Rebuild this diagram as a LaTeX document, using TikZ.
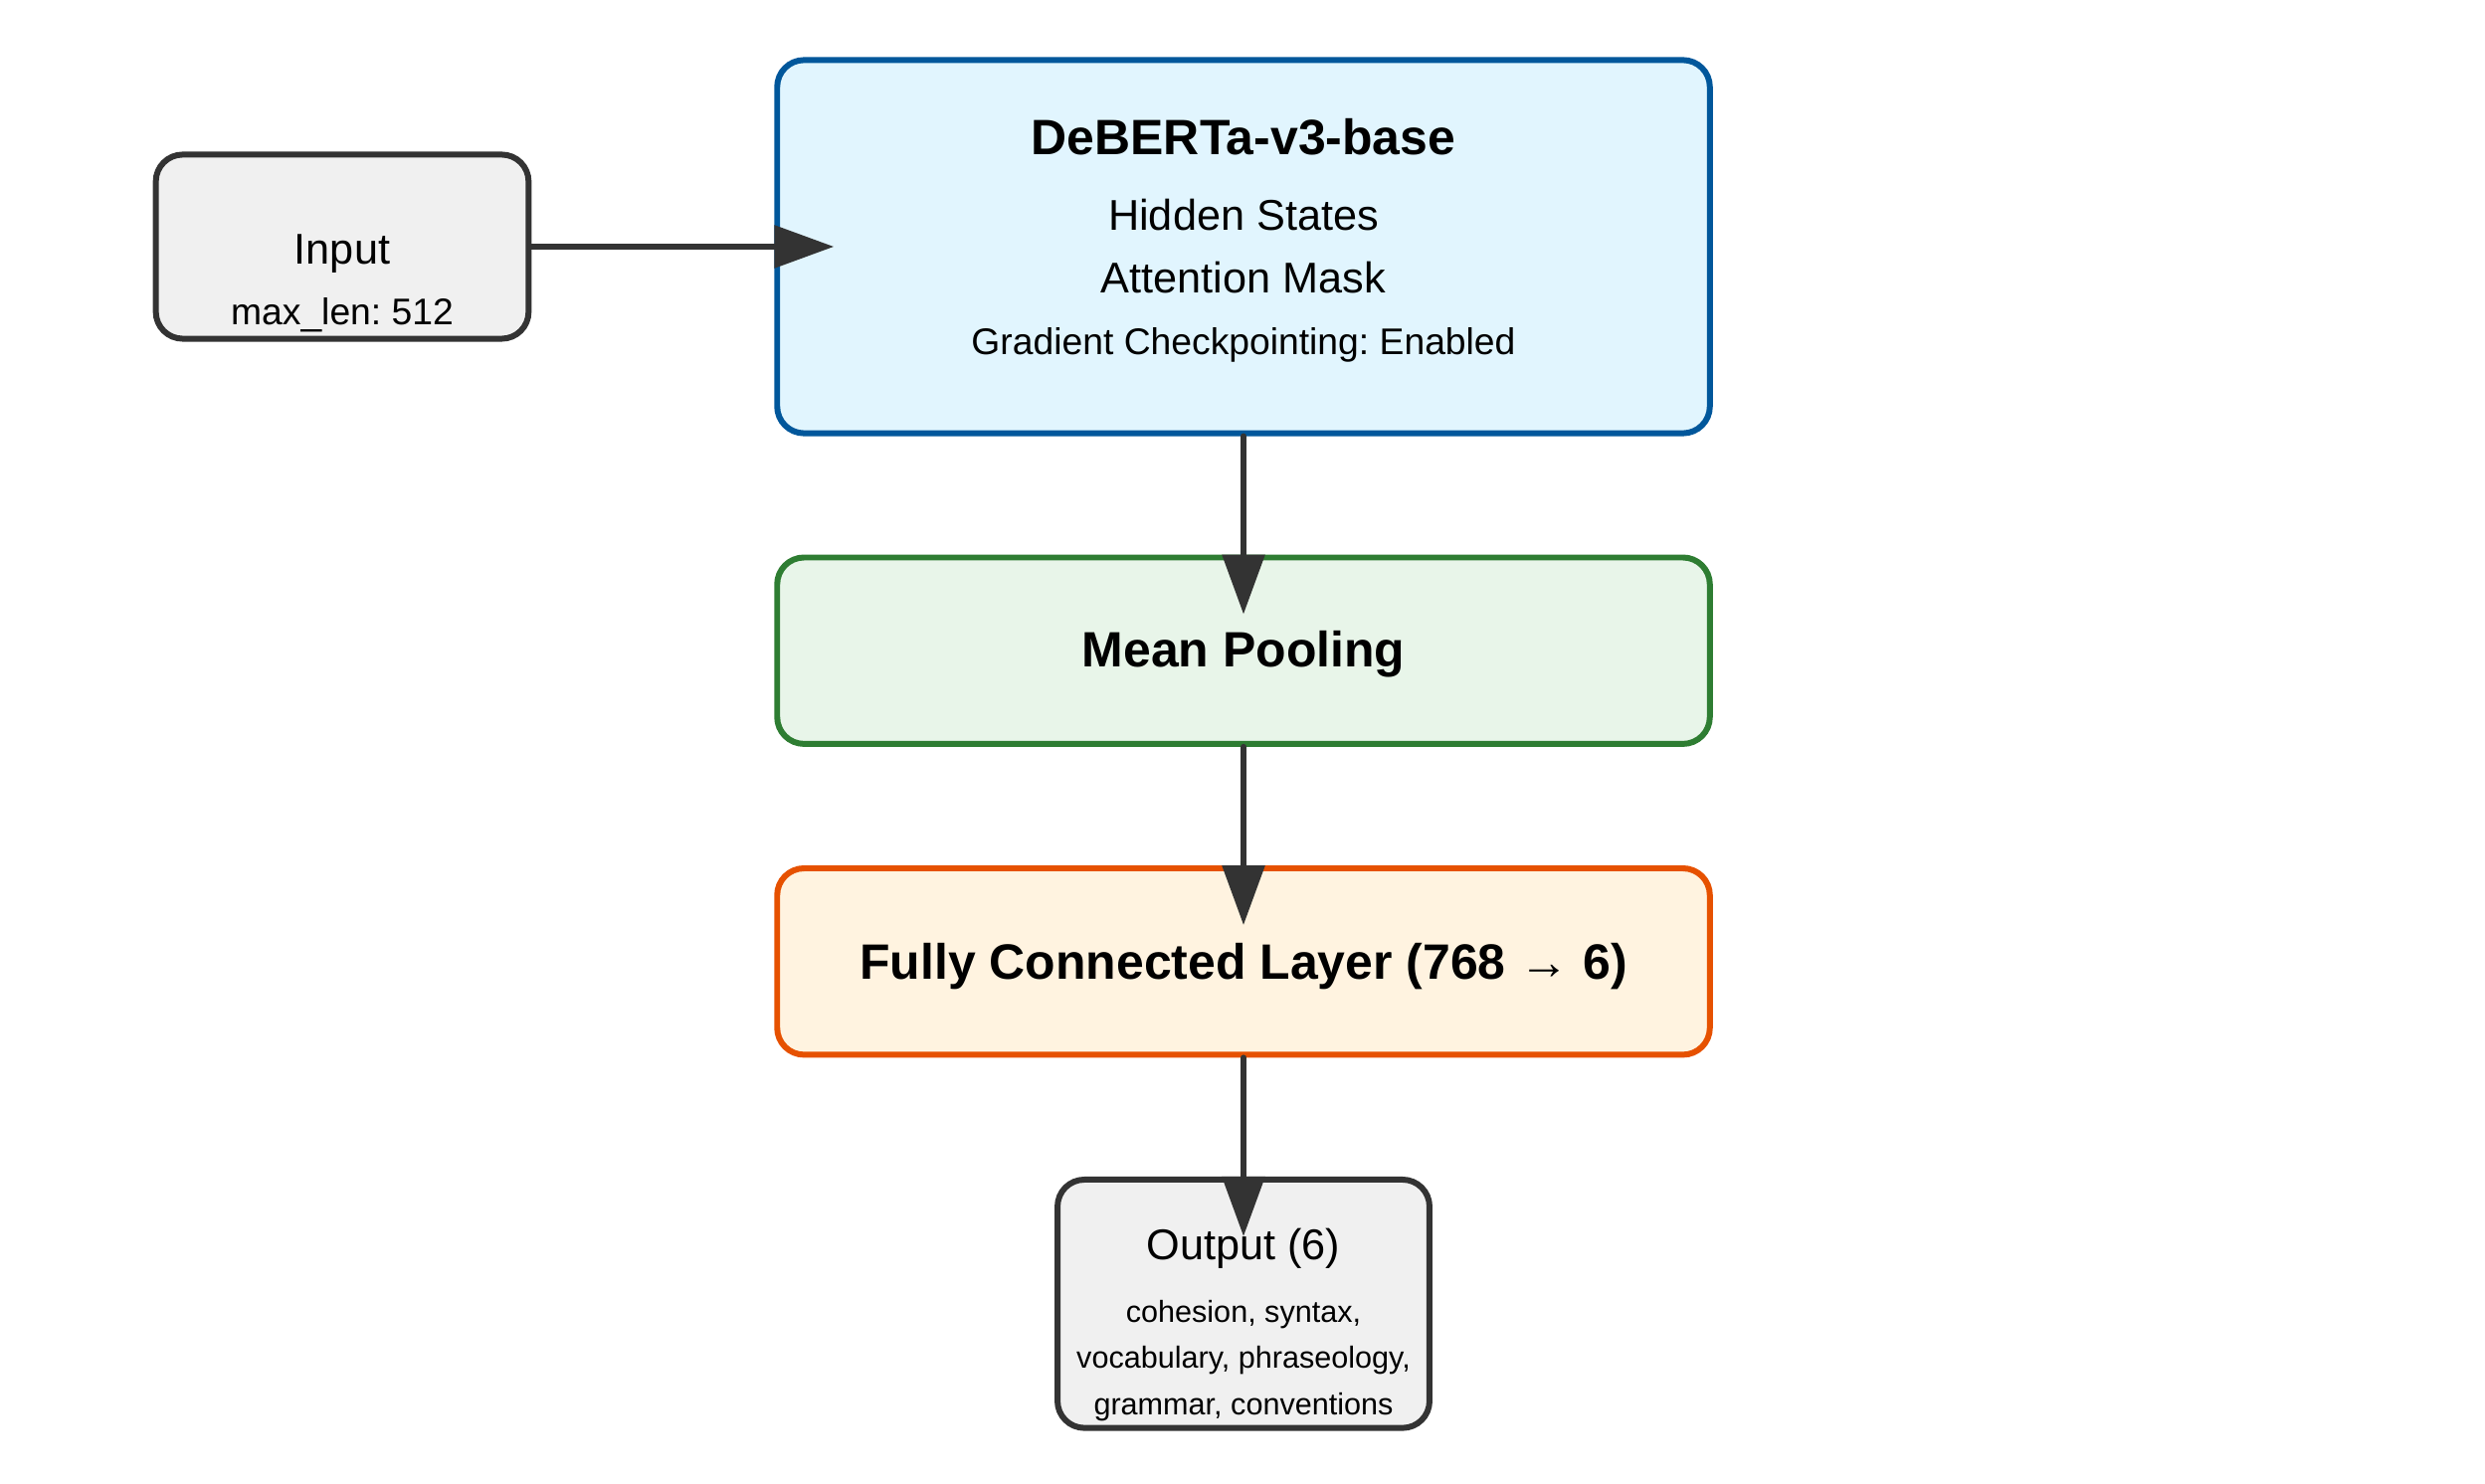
\documentclass[tikz,border=0pt]{standalone}
\usepackage{fontspec}
\setmainfont{Liberation Sans}
\usetikzlibrary{arrows.meta}
\frenchspacing
\definecolor{edge}{HTML}{333333}
\definecolor{greybg}{HTML}{F0F0F0}
\definecolor{debbg}{HTML}{E1F5FE}
\definecolor{debln}{HTML}{01579B}
\definecolor{poolbg}{HTML}{E8F5E9}
\definecolor{poolln}{HTML}{2E7D32}
\definecolor{fcbg}{HTML}{FFF3E0}
\definecolor{fcln}{HTML}{E65100}
\begin{document}
\begin{tikzpicture}[x=0.01cm,y=-0.01cm,line cap=round,
		>={Triangle[length=0.6cm,width=0.42cm]},
		box/.style={draw,rounded corners=0.27cm,line width=1.7pt,inner sep=0pt},
		big/.style={font=\fontsize{12.3}{15}\selectfont},
		mid/.style={font=\fontsize{10.6}{13}\selectfont},
		sml/.style={font=\fontsize{8.7}{11}\selectfont},
		head/.style={font=\fontsize{14.2}{17}\selectfont\bfseries},
		link/.style={->,line width=1.7pt,draw=edge,fill=edge,shorten >=-0.6cm}]
	\useasboundingbox (0,0) rectangle (2498,1492);
	%boxes
	\node[box,draw=edge,fill=greybg,minimum width=3.745cm,minimum height=1.85cm] (inp) at (344,248) {};
	\node[box,draw=debln,fill=debbg,minimum width=9.37cm,minimum height=3.75cm] (deb) at (1250,248) {};
	\node[box,draw=poolln,fill=poolbg,minimum width=9.37cm,minimum height=1.873cm] (pool) at (1250,654.2) {};
	\node[box,draw=fcln,fill=fcbg,minimum width=9.37cm,minimum height=1.873cm] (fc) at (1250,966.7) {};
	\node[box,draw=edge,fill=greybg,minimum width=3.737cm,minimum height=2.495cm] (out) at (1250,1310.8) {};
	%texts
	\node[big,anchor=base] (inpT) at (344,266) {Input};
	\node[mid,anchor=base] (inpL) at (344,327) {max\_len: 512};
	\node[head,anchor=base] (debT) at (1250,156) {DeBERTa-v3-base};
	\node[big,anchor=base] (debH) at (1250,232) {Hidden States};
	\node[big,anchor=base] (debA) at (1250,295) {Attention Mask};
	\node[mid,anchor=base] (debG) at (1250,357) {Gradient Checkpointing: Enabled};
	\node[head,anchor=base] (poolT) at (1250,671) {Mean Pooling};
	\node[head,anchor=base] (fcT) at (1250,984) {Fully Connected Layer (768 → 6)};
	\node[big,anchor=base] (outT) at (1250,1266) {Output (6)};
	\foreach \T [count=\Y] in {{cohesion, syntax,},{vocabulary, phraseology,},{grammar, conventions}}
	{\node[sml,anchor=base] (out\Y) at (1250,1329+46.5*\Y-46.5) {\T};}
	%arrows
	\draw[link] (inp) -- (deb);
	\foreach \A/\B in {deb/pool,pool/fc,fc/out}
	{\draw[link] (\A) -- (\B);}
\end{tikzpicture}
\end{document}
